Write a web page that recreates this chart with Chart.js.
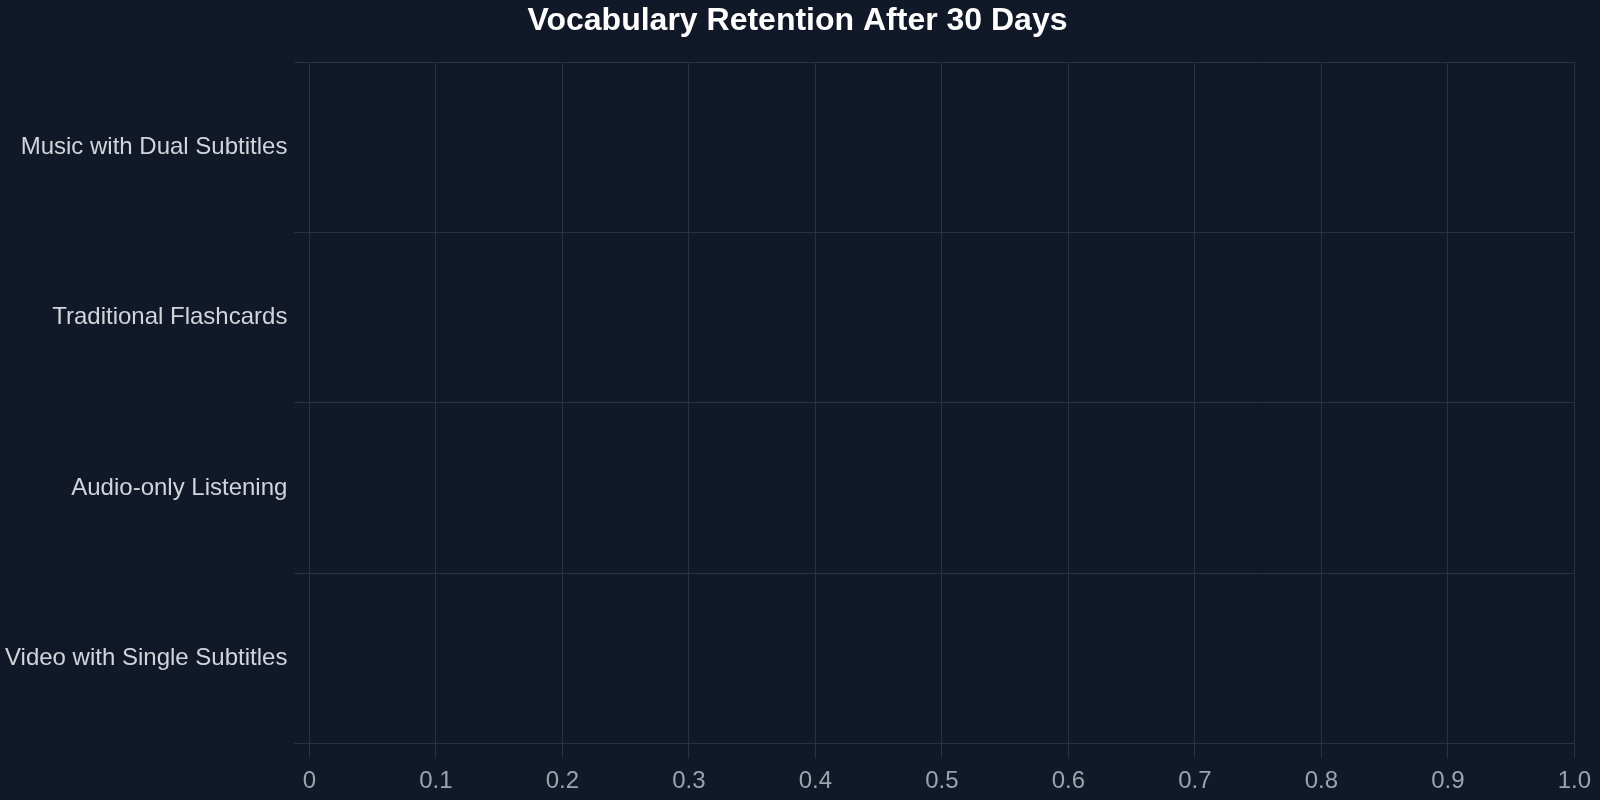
<!DOCTYPE html>
<html>
<head>
<meta charset="utf-8">
<script src="https://cdn.jsdelivr.net/npm/chart.js@4.4.0/dist/chart.umd.min.js"></script>
<style>
    html, body { margin: 0; padding: 0; background: #111827; }
    #wrap { width: 1600px; height: 800px; }
</style>
</head>
<body>
<div id="wrap"><canvas id="retentionChart"></canvas></div>
<script>
// categories, top to bottom
const methods = ['Music with Dual Subtitles', 'Traditional Flashcards', 'Audio-only Listening', 'Video with Single Subtitles'];
// no bars are visible in the picture, so every value is missing
const retention = [null, null, null, null];
const xTickLabels = ['0', '0.1', '0.2', '0.3', '0.4', '0.5', '0.6', '0.7', '0.8', '0.9', '1.0'];

const colors = {
    title: '#ffffff',
    yText: '#d1d5db',
    xText: '#9ca3af',
    grid: '#2a3140',
    bar: '#60a5fa',
};

Chart.defaults.font.family = '"Liberation Sans", Arial, sans-serif';

const ctx = document.getElementById('retentionChart').getContext('2d');
const retentionChart = new Chart(ctx, {
    type: 'bar',
    data: {
        labels: methods,
        datasets: [
            {
                label: 'Retention',
                data: retention,
                backgroundColor: colors.bar,
            },
        ],
    },
    options: {
        indexAxis: 'y',
        responsive: true,
        maintainAspectRatio: false,
        animation: false,
        layout: {
            padding: { top: 0, right: 3, bottom: -5, left: -2 },
        },
        scales: {
            x: {
                min: 0,
                max: 1,
                ticks: {
                    stepSize: 0.1,
                    color: colors.xText,
                    font: { size: 24 },
                    padding: 9,
                    callback: (value, index) => xTickLabels[index],
                },
                grid: {
                    color: colors.grid,
                    tickLength: 15,
                },
                border: { color: colors.grid },
            },
            y: {
                ticks: {
                    color: colors.yText,
                    font: { size: 24 },
                    padding: 7,
                },
                grid: {
                    color: colors.grid,
                    tickLength: 15,
                },
                border: { color: colors.grid },
            },
        },
        plugins: {
            legend: { display: false },
            tooltip: { enabled: false },
            title: {
                display: true,
                text: 'Vocabulary Retention After 30 Days',
                color: colors.title,
                font: { size: 32, weight: 'bold' },
                padding: { top: 2, bottom: 22 },
            },
        },
    },
});
</script>
</body>
</html>
